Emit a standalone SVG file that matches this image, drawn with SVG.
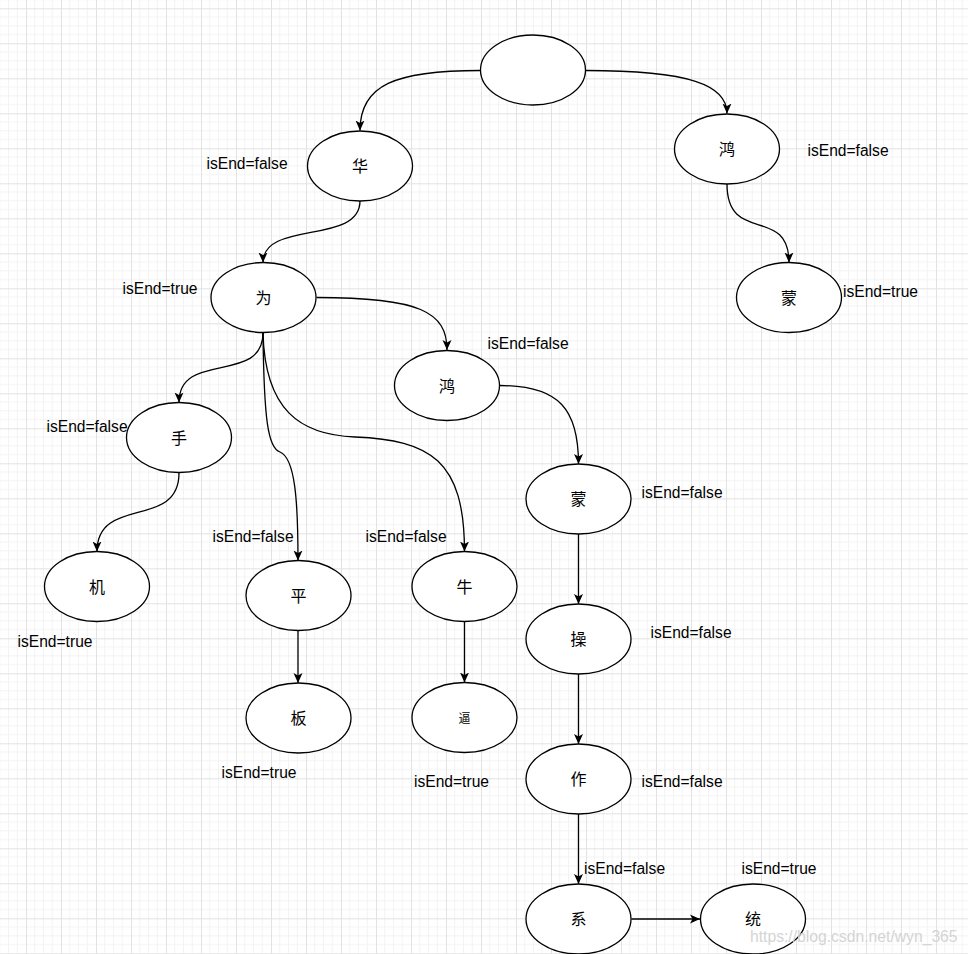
<svg xmlns="http://www.w3.org/2000/svg" width="968" height="954" viewBox="0 0 968 954">
<style>
.node ellipse{fill:#fff;stroke:#000;stroke-width:1.3}
.node text{font-family:"Noto Sans CJK SC","Liberation Sans",sans-serif;font-size:16px;fill:#000;text-anchor:middle;dominant-baseline:central}
.lbl{font-family:"Liberation Sans",Arial,sans-serif;font-size:15.6px;fill:#000}
.edges path{fill:none;stroke:#000;stroke-width:1.3;marker-end:url(#arr)}
.wm{font-family:"Liberation Sans",Arial,sans-serif;font-size:15.7px;fill:#d4d4d4}
</style>
<defs>
<pattern id="grid" patternUnits="userSpaceOnUse" x="26" y="8.3" width="35" height="35">
<path d="M8.75,0V35M17.5,0V35M26.25,0V35M0,8.75H35M0,17.5H35M0,26.25H35" stroke="#f3f3f3" stroke-width="1" fill="none"/>
<path d="M0.5,0V35M0,0.5H35" stroke="#e2e2e2" stroke-width="1" fill="none"/>
</pattern>
<marker id="arr" markerUnits="userSpaceOnUse" markerWidth="12" markerHeight="12" viewBox="0 0 12 12" refX="10" refY="5" orient="auto">
<path d="M0,0.5 L10,5 L0,9.5 L2.5,5 Z" fill="#000"/>
</marker>
</defs>
<rect width="968" height="954" fill="#fff"/>
<rect width="968" height="954" fill="url(#grid)"/>
<g class="edges" id="connectors">
<path d="M480.5,70.5 C395,70.5 360,85 360,130.5"/>
<path d="M585.5,70.5 C690,70.5 727,85 727,113.5"/>
<path d="M360,201 C360,245 263,220 263,262.5"/>
<path d="M727,184 C727,245 789,205 789,262.5"/>
<path d="M316.5,297.5 C420,297.5 447,312 447,350"/>
<path d="M263,333 C263,385 179,350 179,402.5"/>
<path d="M263,333 C264,420 268,448 280,452 C295,458 298,500 298,560.5"/>
<path d="M263,333 C265,410 300,435 355,437 C430,440 464.5,460 464.5,551.5"/>
<path d="M179,473 C179,530 97,495 97,551.5"/>
<path d="M298,630 L298,683"/>
<path d="M464.5,621.5 L464.5,682.5"/>
<path d="M499.5,385.5 C560,385.5 578.5,410 578.5,464"/>
<path d="M578.5,534 L578.5,604"/>
<path d="M578.5,674 L578.5,744"/>
<path d="M578.5,814 L578.5,884"/>
<path d="M631.5,919 L700,919"/>
</g>
<g class="node" id="root"><ellipse cx="533" cy="70" rx="52.5" ry="35"/></g>
<g class="node" id="n-hua"><ellipse cx="360" cy="166" rx="52.5" ry="35"/><text x="360" y="165">华</text></g>
<g class="node" id="n-hong1"><ellipse cx="727" cy="149" rx="52.5" ry="35"/><text x="727" y="148">鸿</text></g>
<g class="node" id="n-meng1"><ellipse cx="789" cy="297.5" rx="52.5" ry="35"/><text x="789" y="296.5">蒙</text></g>
<g class="node" id="n-wei"><ellipse cx="263.5" cy="297.5" rx="52.5" ry="35"/><text x="263.5" y="296.5">为</text></g>
<g class="node" id="n-hong2"><ellipse cx="447" cy="385.5" rx="52.5" ry="35"/><text x="447" y="384.5">鸿</text></g>
<g class="node" id="n-shou"><ellipse cx="179" cy="437.5" rx="52.5" ry="35"/><text x="179" y="436.5">手</text></g>
<g class="node" id="n-ji"><ellipse cx="97" cy="586.5" rx="52.5" ry="35"/><text x="97" y="585.5">机</text></g>
<g class="node" id="n-ping"><ellipse cx="298.5" cy="595.5" rx="52.5" ry="35"/><text x="298.5" y="594.5">平</text></g>
<g class="node" id="n-ban"><ellipse cx="298.5" cy="718" rx="52.5" ry="35"/><text x="298.5" y="717">板</text></g>
<g class="node" id="n-niu"><ellipse cx="464.5" cy="586.5" rx="52.5" ry="35"/><text x="464.5" y="585.5">牛</text></g>
<g class="node" id="n-bi"><ellipse cx="464.5" cy="717.5" rx="52.5" ry="35"/><text x="464.5" y="717" style="font-size:12px">逼</text></g>
<g class="node" id="n-meng2"><ellipse cx="578.5" cy="499" rx="52.5" ry="35"/><text x="578.5" y="498">蒙</text></g>
<g class="node" id="n-cao"><ellipse cx="578.5" cy="639" rx="52.5" ry="35"/><text x="578.5" y="638">操</text></g>
<g class="node" id="n-zuo"><ellipse cx="578.5" cy="779" rx="52.5" ry="35"/><text x="578.5" y="778">作</text></g>
<g class="node" id="n-xi"><ellipse cx="578.5" cy="919" rx="52.5" ry="35"/><text x="578.5" y="918">系</text></g>
<g class="node" id="n-tong"><ellipse cx="753" cy="919" rx="52.5" ry="35"/><text x="753" y="918">统</text></g>
<g id="labels">
<text class="lbl" x="206.5" y="169">isEnd=false</text>
<text class="lbl" x="807.5" y="155.5">isEnd=false</text>
<text class="lbl" x="122.5" y="294">isEnd=true</text>
<text class="lbl" x="843" y="296.5">isEnd=true</text>
<text class="lbl" x="487.5" y="349">isEnd=false</text>
<text class="lbl" x="46.5" y="432">isEnd=false</text>
<text class="lbl" x="17.5" y="646.5">isEnd=true</text>
<text class="lbl" x="212.5" y="541.5">isEnd=false</text>
<text class="lbl" x="365.5" y="541.5">isEnd=false</text>
<text class="lbl" x="221.5" y="777.5">isEnd=true</text>
<text class="lbl" x="414" y="786.5">isEnd=true</text>
<text class="lbl" x="641.5" y="497.5">isEnd=false</text>
<text class="lbl" x="650.5" y="637.5">isEnd=false</text>
<text class="lbl" x="641.5" y="786.5">isEnd=false</text>
<text class="lbl" x="584" y="873.5">isEnd=false</text>
<text class="lbl" x="741.5" y="873.5">isEnd=true</text>
</g>
<text class="wm" x="750" y="942">https://blog.csdn.net/wyn_365</text>
</svg>
